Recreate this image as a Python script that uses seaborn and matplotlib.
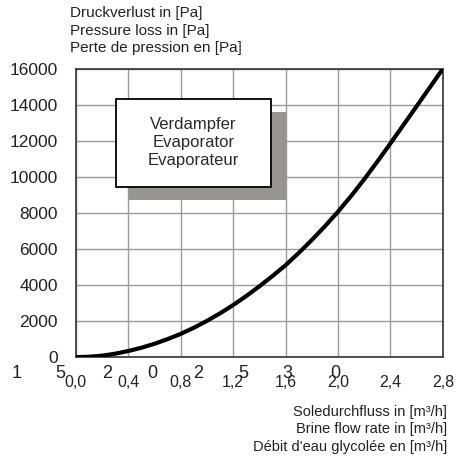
import numpy as np
import pandas as pd
import seaborn as sns
import matplotlib.pyplot as plt
from matplotlib.patches import Rectangle

# Brine flow [m3/h] vs pressure loss [Pa]
flow = [0.0, 0.1, 0.2, 0.3, 0.4, 0.5, 0.6, 0.7, 0.8, 0.9, 1.0, 1.1, 1.2, 1.3, 1.4,
        1.5, 1.6, 1.7, 1.8, 1.9, 2.0, 2.1, 2.2, 2.3, 2.4, 2.5, 2.6, 2.7, 2.8]
dp = [0, 20, 80, 190, 340, 520, 740, 1000, 1290, 1630, 2010, 2430, 2890, 3390, 3930,
      4500, 5100, 5780, 6500, 7260, 8070, 8940, 9870, 10850, 11860, 12890, 13925, 14960, 16000]

xticks = [0.0, 0.4, 0.8, 1.2, 1.6, 2.0, 2.4, 2.8]
xticklabels = ['0,0', '0,4', '0,8', '1,2', '1,6', '2,0', '2,4', '2,8']
yticks = [0, 2000, 4000, 6000, 8000, 10000, 12000, 14000, 16000]

# stray digits left over from a second scale in the original
stray = ['1', '5', '2', '0', '2', '5', '3', '0']
stray_x = [-0.45, -0.12, 0.237, 0.58, 0.93, 1.274, 1.61, 1.976]

ylabel_lines = ['Druckverlust in [Pa]', 'Pressure loss in [Pa]', 'Perte de pression en [Pa]']
xlabel_lines = ['Soledurchfluss in [m\u00b3/h]', 'Brine flow rate in [m\u00b3/h]',
                "D\u00e9bit d'eau glycol\u00e9e en [m\u00b3/h]"]
box_lines = ['Verdampfer', 'Evaporator', 'Evaporateur']

sns.set_style('white')
plt.rcParams['font.family'] = ['Liberation Sans', 'DejaVu Sans']

df = pd.DataFrame({'flow': flow, 'dp': dp})

fig = plt.figure(figsize=(4.57, 4.62), dpi=100)
ax = fig.add_axes([0.166, 0.227, 0.803, 0.624])

sns.lineplot(data=df, x='flow', y='dp', ax=ax, color='black', linewidth=3.0, zorder=5)

ax.set_xlim(0, 2.8)
ax.set_ylim(0, 16000)
ax.set_xticks(xticks)
ax.set_xticklabels(xticklabels, fontsize=11.5, color='#222222')
ax.set_yticks(yticks)
ax.set_yticklabels([str(v) for v in yticks], fontsize=12.5, color='#222222')
ax.set_xticks(np.arange(0, 2.81, 0.1), minor=True)
ax.set_yticks(np.arange(0, 16001, 1000), minor=True)
ax.tick_params(axis='both', which='major', direction='out', length=3, color='#555555')
ax.tick_params(axis='x', which='major', pad=10)
ax.tick_params(axis='y', which='major', pad=10)
ax.tick_params(axis='both', which='minor', direction='in', length=4, color='#555555')
ax.grid(True, which='major', color='#9a9a9a', linewidth=1.0)
ax.set_xlabel('')
ax.set_ylabel('')
for s in ax.spines.values():
    s.set_color('#333333')
    s.set_linewidth(1.2)

# annotation box with shadow
ax.add_patch(Rectangle((0.144, 0.545), 0.428, 0.306, transform=ax.transAxes,
                       facecolor='#97958f', edgecolor='none', zorder=6))
ax.add_patch(Rectangle((0.109, 0.590), 0.422, 0.306, transform=ax.transAxes,
                       facecolor='white', edgecolor='black', linewidth=1.3, zorder=7))
for i, t in enumerate(box_lines):
    ax.text(0.32, 0.808 - i * 0.063, t, transform=ax.transAxes, ha='center', va='center',
            fontsize=12, color='#2a2a2a', zorder=8)

trans = ax.get_xaxis_transform()
for t, xv in zip(stray, stray_x):
    ax.text(xv, -0.058, t, transform=trans, ha='center', va='center', fontsize=13,
            color='#222222', clip_on=False)

for i, t in enumerate(ylabel_lines):
    fig.text(0.153, 1 - (13 + i * 17.5) / 462, t, ha='left', va='center', fontsize=11,
             color='#222222')
for i, t in enumerate(xlabel_lines):
    fig.text(0.978, 1 - (412 + i * 17.5) / 462, t, ha='right', va='center', fontsize=10.5,
             color='#222222')

plt.savefig('out.png', dpi=100)
